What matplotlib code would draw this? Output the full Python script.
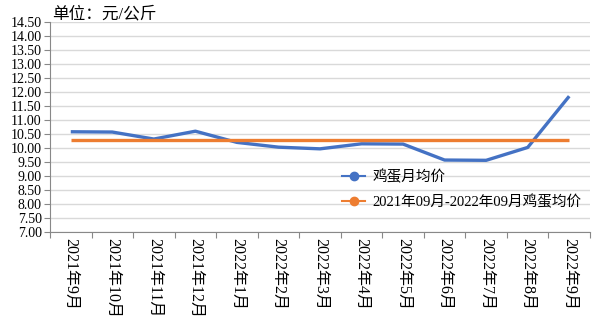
import matplotlib.pyplot as plt
from matplotlib.lines import Line2D
import numpy as np

plt.rcParams['font.family'] = ['Liberation Serif', 'Noto Sans CJK SC', 'DejaVu Sans']

# 月份与鸡蛋月均价（元/公斤）
months = ['2021年9月', '2021年10月', '2021年11月', '2021年12月', '2022年1月',
          '2022年2月', '2022年3月', '2022年4月', '2022年5月', '2022年6月',
          '2022年7月', '2022年8月', '2022年9月']
egg_price = [10.58, 10.57, 10.32, 10.60, 10.20, 10.03, 9.97,
             10.15, 10.14, 9.57, 9.56, 10.02, 11.85]
avg_price = round(float(np.mean(egg_price)), 2)
y_ticks = np.arange(7.0, 14.51, 0.5)

blue = '#4472C4'
orange = '#ED7D31'

fig = plt.figure(figsize=(6, 3.22), dpi=100)
ax = fig.add_axes([50 / 600, 90 / 322, 540 / 600, 210 / 322])

x = np.arange(len(months))
ax.plot(x, egg_price, color=blue, lw=2.4, solid_capstyle='butt')
ax.plot(x, [avg_price] * len(x), color=orange, lw=2.4, solid_capstyle='butt')

ax.set_xlim(-0.5, len(months) - 0.5)
ax.set_ylim(7, 14.5)
ax.set_yticks(y_ticks)
ax.set_yticklabels(['%.2f' % v for v in y_ticks], fontsize=10)
ax.yaxis.grid(True, color='#d9d9d9', lw=1)
ax.set_axisbelow(True)

# 类别刻度线在两个月份之间，标签在中间
ax.set_xticks(np.arange(-0.5, len(months), 1.0))
ax.set_xticklabels([])
ax.set_xticks(x, minor=True)
ax.set_xticklabels(months, minor=True, rotation=270, fontsize=11.5,
                   va='top', ha='center')
ax.tick_params(axis='x', which='major', length=4, color='#888888', direction='out')
ax.tick_params(axis='x', which='minor', length=0, pad=4)
ax.tick_params(axis='y', length=4, color='#888888', pad=2)

for s in ['top', 'right']:
    ax.spines[s].set_visible(False)
ax.spines['left'].set_color('#888888')
ax.spines['bottom'].set_color('#888888')

fig.text(52 / 600, 1 - 14 / 322, '单位：元/公斤', fontsize=12, va='center', ha='left')

handles = [Line2D([], [], color=blue, lw=1.5, marker='o', markersize=6),
           Line2D([], [], color=orange, lw=1.5, marker='o', markersize=6)]
labels = ['鸡蛋月均价', '2021年09月-2022年09月鸡蛋均价']
ax.legend(handles, labels, loc='upper left', bbox_to_anchor=(0.53, 0.325),
          frameon=False, fontsize=10.5, handlelength=1.6, handletextpad=0.5,
          labelspacing=0.75, borderaxespad=0)

fig.savefig('out.png', dpi=100)
